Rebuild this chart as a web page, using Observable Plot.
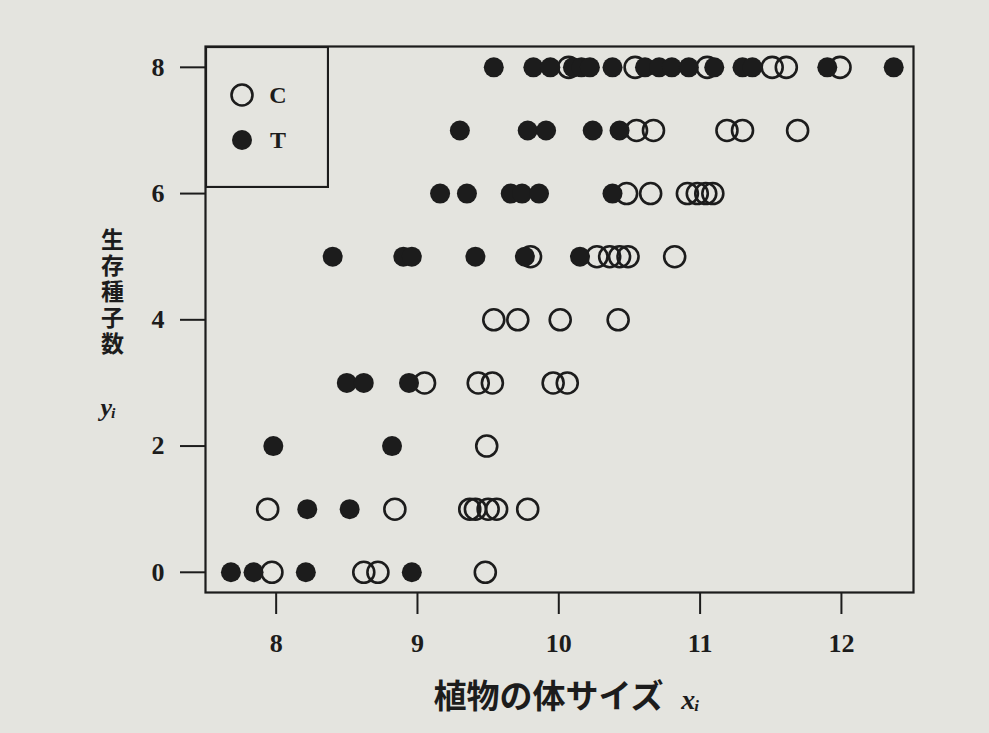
<!DOCTYPE html>
<html><head><meta charset="utf-8">
<script src="https://cdn.jsdelivr.net/npm/d3@7"></script>
<script src="https://cdn.jsdelivr.net/npm/@observablehq/plot@0.6"></script>
<style>
html,body{margin:0;padding:0;background:#e4e4df;}
#wrap{position:relative;width:989px;height:733px;overflow:hidden;}
#legend{position:absolute;left:205px;top:46px;}
</style></head>
<body><div id="wrap"></div>
<script>
// Group C (open circles): plant size x and surviving seeds y
const cSize  = [10.07,10.54,11.05,11.51,11.61,11.99,
                10.55,10.67,11.19,11.30,11.69,
                10.48,10.65,10.91,10.98,11.04,11.09,
                9.80,10.27,10.36,10.43,10.49,10.82,
                9.54,9.71,10.01,10.42,
                9.05,9.43,9.53,9.96,10.06,
                9.49,
                7.94,8.84,9.37,9.41,9.50,9.56,9.78,
                7.97,8.62,8.72,9.48];
const cSeeds = [8,8,8,8,8,8,
                7,7,7,7,7,
                6,6,6,6,6,6,
                5,5,5,5,5,5,
                4,4,4,4,
                3,3,3,3,3,
                2,
                1,1,1,1,1,1,1,
                0,0,0,0];
// Group T (filled circles)
const tSize  = [9.54,9.82,9.94,10.10,10.16,10.22,10.38,10.61,10.71,10.80,10.92,11.10,11.30,11.37,11.90,12.37,
                9.30,9.78,9.91,10.24,10.43,
                9.16,9.35,9.66,9.74,9.86,10.38,
                8.40,8.90,8.96,9.41,9.76,10.15,
                8.50,8.62,8.94,
                7.98,8.82,
                8.22,8.52,
                7.68,7.84,8.21,8.96];
const tSeeds = [8,8,8,8,8,8,8,8,8,8,8,8,8,8,8,8,
                7,7,7,7,7,
                6,6,6,6,6,6,
                5,5,5,5,5,5,
                3,3,3,
                2,2,
                1,1,
                0,0,0,0];
const xTicks = [8,9,10,11,12];
const yTicks = [0,2,4,6,8];
const groups = ["C","T"];
const xLabel = "植物の体サイズ";
const yLabel = "生存種子数";

const ink = "#1c1c1c";
const dataC = cSize.map((x,i)=>({x, y:cSeeds[i], f:"C"}));
const dataT = tSize.map((x,i)=>({x, y:tSeeds[i], f:"T"}));

const plot = Plot.plot({
  width: 989, height: 733,
  marginLeft: 205, marginRight: 76, marginTop: 46, marginBottom: 141,
  style: {background: "transparent", color: ink, fontFamily: "'Liberation Serif', serif", fontSize: "26px", fontWeight: "bold"},
  x: {domain: [7.5, 12.51]},
  y: {domain: [-0.32, 8.33]},
  marks: [
    Plot.frame({stroke: ink, strokeWidth: 2.2}),
    Plot.axisX({ticks: xTicks, tickFormat: "d", tickSize: 22, tickPadding: 19, strokeWidth: 2, label: null}),
    Plot.axisY({ticks: yTicks, tickFormat: "d", tickSize: 25, tickPadding: 16, strokeWidth: 2, label: null}),
    Plot.dot(dataC, {x: "x", y: "y", r: 10.5, stroke: ink, strokeWidth: 2.6, fill: "none"}),
    Plot.dot(dataT, {x: "x", y: "y", r: 10, fill: ink, stroke: "none"}),
    Plot.text([yLabel], {frameAnchor: "left", dx: -93, dy: -34, textAnchor: "middle", className: "ylab",
      fontSize: 23, fontFamily: "'Noto Sans CJK JP', sans-serif", fontWeight: "bold", fill: ink}),
    Plot.text(["yᵢ"], {frameAnchor: "left", dx: -97, dy: 88, textAnchor: "middle", fontSize: 26, fontStyle: "italic",
      fontFamily: "'Liberation Serif', serif", fill: ink}),
    Plot.text([xLabel], {frameAnchor: "bottom", dx: -11, dy: 105, textAnchor: "middle", fontSize: 33, lineAnchor: "middle",
      fontFamily: "'Noto Sans CJK JP', sans-serif", fontWeight: "bold", fill: ink}),
    Plot.text(["xᵢ"], {frameAnchor: "bottom", dx: 131, dy: 108, textAnchor: "middle", fontSize: 28, fontStyle: "italic", lineAnchor: "middle",
      fontFamily: "'Liberation Serif', serif", fill: ink})
  ]
});
// stack the y label characters vertically (upright)
d3.select(plot).selectAll(".ylab text")
  .attr("dy", null)
  .style("writing-mode", "vertical-rl")
  .style("text-orientation", "upright")
  .style("letter-spacing", "3px");

const wrap = document.getElementById("wrap");
wrap.appendChild(plot);

// Legend box in the top-left corner of the frame
const leg = d3.select(wrap).append("div").attr("id","legend")
  .append("svg").attr("width",124).attr("height",142);
leg.append("rect").attr("x",1).attr("y",1).attr("width",122).attr("height",140)
  .attr("fill","none").attr("stroke",ink).attr("stroke-width",2.2);
groups.forEach((g,i)=>{
  const cy = 49 + i*45;
  leg.append("circle").attr("cx",37).attr("cy",cy).attr("r",g==="C"?10.5:10)
    .attr("fill",g==="C"?"none":ink).attr("stroke",g==="C"?ink:"none").attr("stroke-width",2.6);
  leg.append("text").attr("x",73).attr("y",cy).attr("dy","0.35em").attr("text-anchor","middle")
    .attr("font-family","'Liberation Serif', serif").attr("font-size",24).attr("font-weight","bold")
    .attr("fill",ink).text(g);
});
</script>
</body></html>
